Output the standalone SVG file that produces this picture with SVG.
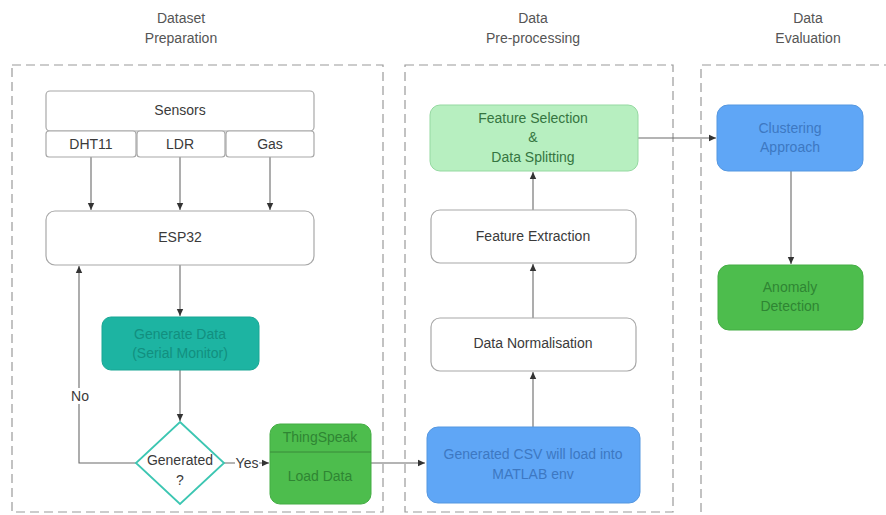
<svg xmlns="http://www.w3.org/2000/svg" width="886" height="515" viewBox="0 0 886 515">
<defs>
<marker id="ah" markerWidth="8" markerHeight="8" refX="7" refY="4" orient="auto" markerUnits="userSpaceOnUse">
<path d="M0,0.8 L7,4 L0,7.2 Z" fill="#333"/>
</marker>
<style>
text{font-family:"Liberation Sans",Arial,sans-serif;font-size:14px;text-anchor:middle;dominant-baseline:central;fill:#3a3a3a}
.title{fill:#555}
.cont{fill:none;stroke:#9a9a9a;stroke-width:1.2;stroke-dasharray:9,5}
.wbox{fill:#fff;stroke:#a8a8a8;stroke-width:1.2}
.conn{fill:none;stroke:#6a6a6a;stroke-width:1.1;marker-end:url(#ah)}
.lbl{fill:#fff}
.tt{fill:#128f7f}
.gt{fill:#2f8533}
.bt{fill:#3d78c2}
.lt{fill:#357540}
</style>
</defs>
<rect width="886" height="515" fill="#fff"/>

<g id="titles">
<text class="title" x="181" y="18">Dataset</text>
<text class="title" x="181" y="38">Preparation</text>
<text class="title" x="533" y="18">Data</text>
<text class="title" x="533" y="38">Pre-processing</text>
<text class="title" x="808" y="18">Data</text>
<text class="title" x="808" y="38">Evaluation</text>
</g>

<g id="containers">
<rect class="cont" x="12" y="65" width="371" height="447"/>
<rect class="cont" x="405" y="65" width="268" height="447"/>
<path class="cont" d="M701,512 V65 H890"/>
</g>

<g id="connectors">
<path class="conn" d="M91,157 V210"/>
<path class="conn" d="M180,157 V210"/>
<path class="conn" d="M270,157 V210"/>
<path class="conn" d="M180,265 V316"/>
<path class="conn" d="M180,370 V421"/>
<path class="conn" d="M136,463 H79 V266"/>
<path class="conn" d="M224,463 H269"/>
<path class="conn" d="M371,463 H425"/>
<path class="conn" d="M533,427 V372"/>
<path class="conn" d="M533,318 V264"/>
<path class="conn" d="M533,210 V172"/>
<path class="conn" d="M638,138 H716"/>
<path class="conn" d="M791,170 V264"/>
<rect class="lbl" x="68" y="388" width="24" height="16"/>
<text x="80" y="396">No</text>
<rect class="lbl" x="235" y="455" width="24" height="16"/>
<text x="247" y="463">Yes</text>
</g>

<g id="sensors">
<rect class="wbox" x="46" y="91" width="268" height="40" rx="4"/>
<text x="180" y="110">Sensors</text>
</g>
<g id="dht11">
<rect class="wbox" x="46" y="131" width="90" height="26" rx="3"/>
<text x="91" y="144">DHT11</text>
</g>
<g id="ldr">
<rect class="wbox" x="137" y="131" width="88" height="26" rx="3"/>
<text x="180" y="144">LDR</text>
</g>
<g id="gas">
<rect class="wbox" x="226" y="131" width="88" height="26" rx="3"/>
<text x="270" y="144">Gas</text>
</g>

<g id="esp32">
<rect class="wbox" x="46" y="211" width="268" height="54" rx="9"/>
<text x="180" y="237">ESP32</text>
</g>

<g id="generate">
<rect x="102" y="317" width="157" height="53" rx="9" fill="#1db4a2" stroke="#19a694" stroke-width="1"/>
<text class="tt" x="180" y="334">Generate Data</text>
<text class="tt" x="180" y="353">(Serial Monitor)</text>
</g>

<g id="decision">
<path d="M180,422 L224,463 L180,504 L136,463 Z" fill="#fff" stroke="#3cc6b2" stroke-width="1.8"/>
<text x="180" y="460">Generated</text>
<text x="180" y="480">?</text>
</g>

<g id="thingspeak">
<rect x="270" y="424" width="101" height="80" rx="10" fill="#4dbd4d" stroke="#44ad44" stroke-width="1"/>
<line x1="270" y1="452" x2="371" y2="452" stroke="#3b8a3b" stroke-width="1"/>
<text class="gt" x="320" y="437">ThingSpeak</text>
<text class="gt" x="320" y="476">Load Data</text>
</g>

<g id="csv">
<rect x="427" y="427" width="213" height="76" rx="11" fill="#5fa6f6" stroke="#5597e0" stroke-width="1"/>
<text class="bt" x="533" y="454">Generated CSV will load into</text>
<text class="bt" x="533" y="474">MATLAB env</text>
</g>

<g id="normalisation">
<rect class="wbox" x="431" y="318" width="205" height="53" rx="9"/>
<text x="533" y="343">Data Normalisation</text>
</g>

<g id="extraction">
<rect class="wbox" x="431" y="210" width="205" height="53" rx="9"/>
<text x="533" y="236">Feature Extraction</text>
</g>

<g id="selection">
<rect x="430" y="105" width="208" height="66" rx="10" fill="#b7efc0" stroke="#95d9a1" stroke-width="1"/>
<text class="lt" x="533" y="118">Feature Selection</text>
<text class="lt" x="533" y="137">&amp;</text>
<text class="lt" x="533" y="157">Data Splitting</text>
</g>

<g id="clustering">
<rect x="717" y="105" width="146" height="66" rx="11" fill="#5fa6f6" stroke="#5597e0" stroke-width="1"/>
<text class="bt" x="790" y="128">Clustering</text>
<text class="bt" x="790" y="147">Approach</text>
</g>

<g id="anomaly">
<rect x="718" y="265" width="145" height="65" rx="11" fill="#4dbd4d" stroke="#44ad44" stroke-width="1"/>
<text class="gt" x="790" y="287">Anomaly</text>
<text class="gt" x="790" y="306">Detection</text>
</g>
</svg>
